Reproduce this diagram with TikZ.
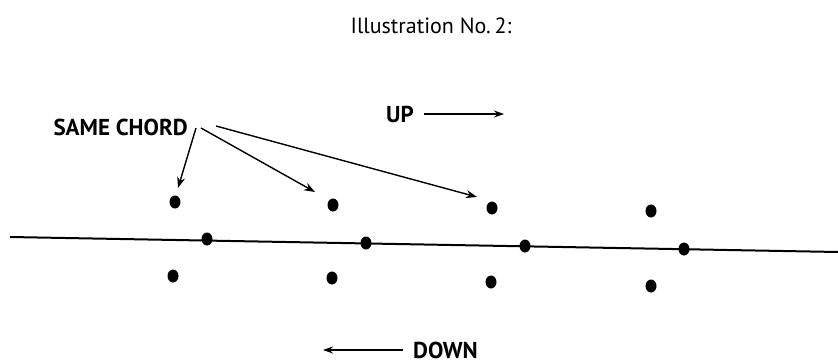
\documentclass[tikz,border=0pt]{standalone}
\usepackage{fontspec}
\setmainfont{PT Sans}
\usetikzlibrary{arrows.meta,shapes.geometric}
\begin{document}
\begin{tikzpicture}[x=1pt,y=-1pt,
  dotmark/.style={ellipse,fill=black,inner sep=0pt,minimum width=11pt,minimum height=13pt},
  lbl/.style={font=\bfseries\fontsize{23}{26}\selectfont,inner sep=0pt},
  pointer/.style={line width=1.4pt,-{Stealth[length=11pt,width=8pt]}},
  dirarrow/.style={line width=1.4pt,-{Stealth[length=10pt,width=7pt]}}]
\useasboundingbox (0,0) rectangle (838,364);
\node[font=\fontsize{22}{26}\selectfont,inner sep=0pt,anchor=base] (title) at (431,33) {Illustration No.\,2:};
% main line
\coordinate (L) at (10,237);
\coordinate (R) at (838,252);
\draw[line width=2pt] (L) -- (R);
% dots
\node[dotmark] (u1) at (175,202) {};
\node[dotmark] (u2) at (333,205) {};
\node[dotmark] (u3) at (492,208) {};
\node[dotmark] (u4) at (651,211) {};
\node[dotmark] (m1) at (207,239) {};
\node[dotmark] (m2) at (366,243) {};
\node[dotmark] (m3) at (525,246) {};
\node[dotmark] (m4) at (684,249) {};
\node[dotmark] (d1) at (173,276) {};
\node[dotmark] (d2) at (332,278) {};
\node[dotmark] (d3) at (491,282) {};
\node[dotmark] (d4) at (651,286) {};
% labels
\node[lbl,anchor=base east] (same) at (188,135) {SAME CHORD};
\coordinate (s1) at (196,128);
\coordinate (s2) at (201,128);
\coordinate (s3) at (216,126);
\coordinate (t1) at (178,188);
\coordinate (t2) at (315,192);
\coordinate (t3) at (477,197);
\draw[pointer] (s1) -- (t1);
\draw[pointer] (s2) -- (t2);
\draw[pointer] (s3) -- (t3);
\node[lbl,anchor=base west] (up) at (386,122) {UP};
\coordinate (upa) at (424,114);
\coordinate (upb) at (504,114);
\draw[dirarrow] (upa) -- (upb);
\node[lbl,anchor=base west] (down) at (413,358) {DOWN};
\coordinate (dna) at (403,350);
\coordinate (dnb) at (323,350);
\draw[dirarrow] (dna) -- (dnb);
\end{tikzpicture}
\end{document}
